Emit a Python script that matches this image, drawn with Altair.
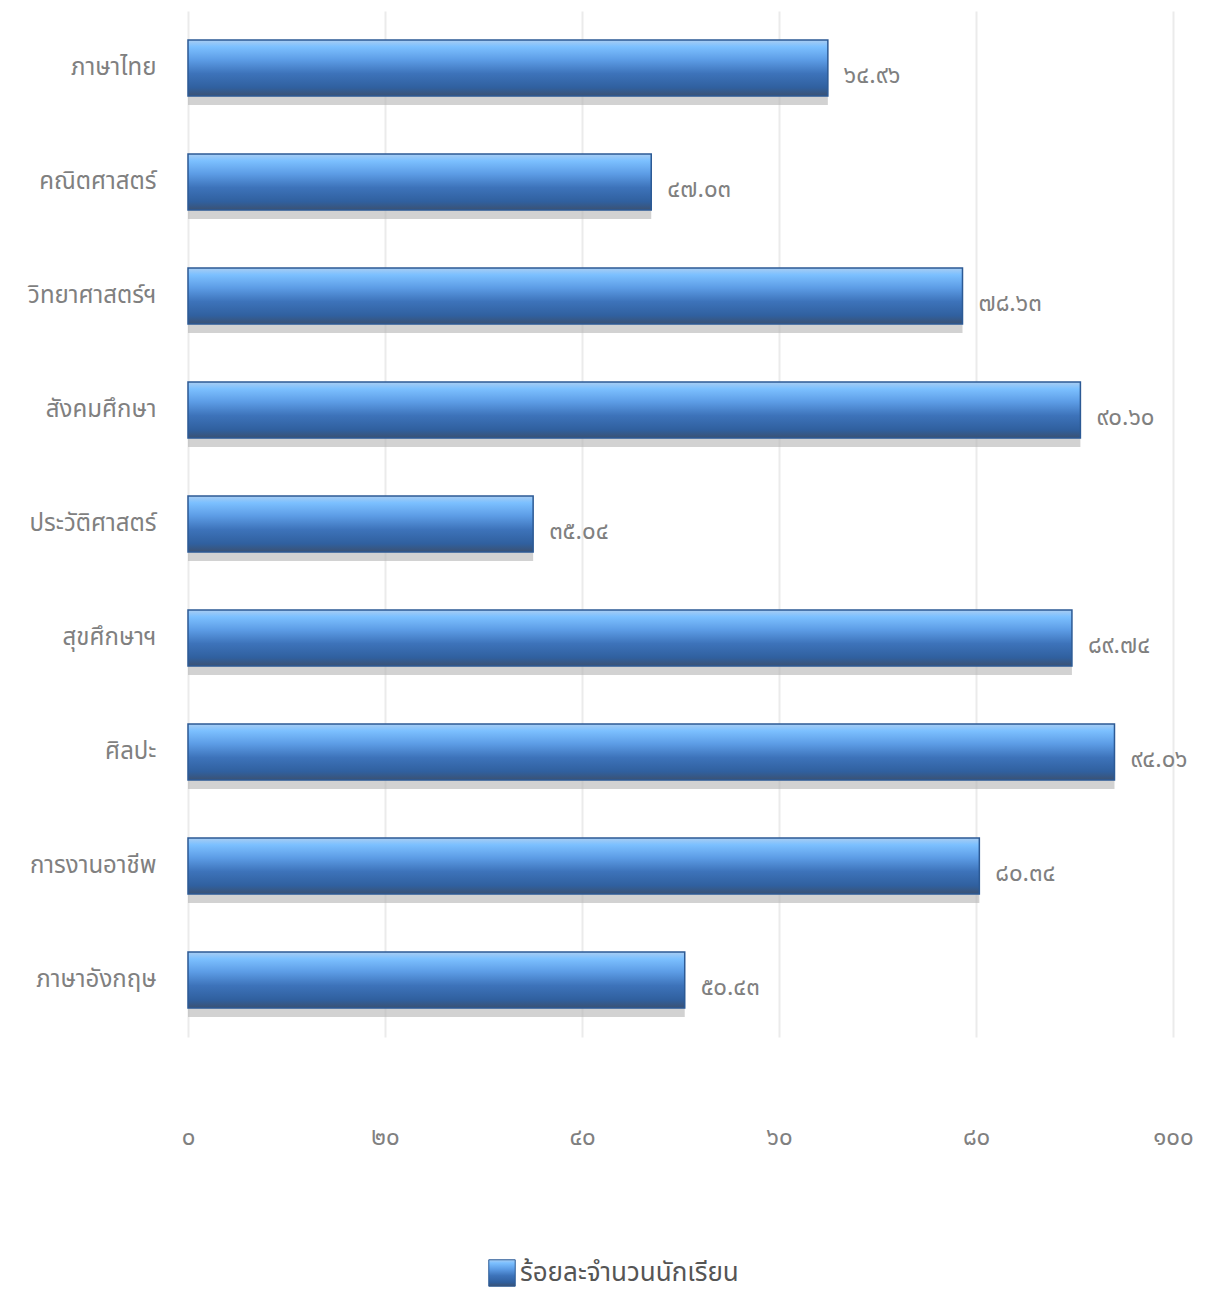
import altair as alt
import pandas as pd

subjects = ["ภาษาไทย", "คณิตศาสตร์", "วิทยาศาสตร์ฯ", "สังคมศึกษา", "ประวัติศาสตร์",
            "สุขศึกษาฯ", "ศิลปะ", "การงานอาชีพ", "ภาษาอังกฤษ"]
values = [64.96, 47.03, 78.63, 90.60, 35.04, 89.74, 94.06, 80.34, 50.43]
x_ticks = [0, 20, 40, 60, 80, 100]
series_name = "ร้อยละจำนวนนักเรียน"

THAI = str.maketrans("0123456789", "๐๑๒๓๔๕๖๗๘๙")
labels = [f"{v:.2f}".translate(THAI) for v in values]

df = pd.DataFrame({"subject": subjects, "value": values, "label": labels,
                   "series": [series_name] * len(subjects)})

tick_expr = " : ".join(f"datum.value == {t} ? '{str(t).translate(THAI)}'" for t in x_ticks) + " : datum.label"

FONT = "Liberation Sans Narrow, Noto Sans Thai, Noto Sans, sans-serif"
TXT = "#808080"

grad = alt.LinearGradient(
    gradient="linear", x1=0, y1=0, x2=0, y2=1,
    stops=[
        alt.GradientStop(offset=0.0, color="#a9cdf2"),
        alt.GradientStop(offset=0.12, color="#7cc0ff"),
        alt.GradientStop(offset=0.35, color="#5d9de6"),
        alt.GradientStop(offset=0.6, color="#3d73ba"),
        alt.GradientStop(offset=0.85, color="#30609f"),
        alt.GradientStop(offset=1.0, color="#3b5273"),
    ],
)

y_enc = alt.Y("subject:N", sort=subjects, title=None,
              scale=alt.Scale(paddingInner=0.5, paddingOuter=0.25),
              axis=alt.Axis(labelFont=FONT, labelFontSize=24, labelColor=TXT,
                            labelPadding=32, ticks=False, domain=False, grid=False,
                            labelLimit=200))
x_enc = alt.X("value:Q", title=None,
              scale=alt.Scale(domain=[0, 100], nice=False),
              axis=alt.Axis(values=x_ticks, labelExpr=tick_expr, labelFont=FONT,
                            labelFontSize=24, labelColor=TXT, labelPadding=88,
                            labelFlush=False, ticks=False, domain=False, grid=True,
                            gridColor="#ebebeb", gridWidth=2))

base = alt.Chart(df)

shadow = base.mark_bar(size=56, color="#b4b4b4", opacity=0.6, yOffset=9).encode(
    y=y_enc, x=x_enc)

bars = base.mark_bar(size=56, fill=grad, strokeWidth=1.5).encode(
    y=alt.Y("subject:N", sort=subjects), x=alt.X("value:Q"),
    stroke=alt.Stroke("series:N", scale=alt.Scale(range=["#2c5a95"]),
                      legend=alt.Legend(title=None, orient="none", legendX=300, legendY=1248,
                                        symbolType="square", symbolSize=700,
                                        symbolFillColor="#3f7bc6", symbolStrokeWidth=1,
                                        labelFont=FONT, labelFontSize=26, labelColor="#555555",
                                        labelLimit=400)))

text = base.mark_text(align="left", baseline="middle", dx=16, dy=8, font=FONT,
                      fontSize=24, color=TXT).encode(
    y=alt.Y("subject:N", sort=subjects), x=alt.X("value:Q"),
    text="label:N")

chart = (shadow + bars + text).properties(
    width=985, height=1026,
    background="white",
    autosize=alt.AutoSizeParams(type="none"),
    padding={"left": 180, "top": 3, "right": 30, "bottom": 270},
).configure_view(stroke=None, strokeWidth=0)

chart.save("out.html", embed_options={"renderer": "svg", "actions": False})
